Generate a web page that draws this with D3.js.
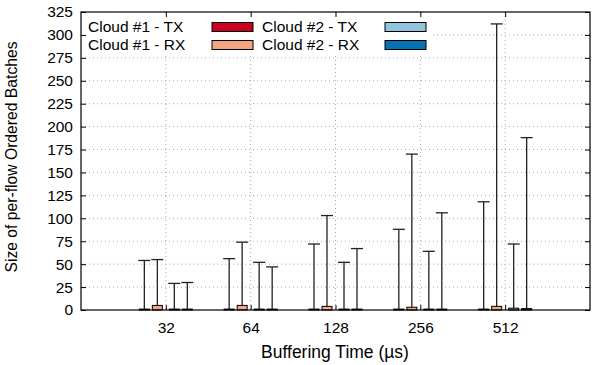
<!DOCTYPE html>
<html><head><meta charset="utf-8">
<script src="https://cdn.jsdelivr.net/npm/d3@7/dist/d3.min.js"></script>
<style>body{margin:0;background:#fff}svg{display:block;font-family:"Liberation Sans",Arial,sans-serif}</style>
</head><body>
<svg id="c" width="595" height="365"></svg>
<script>
const categories = ["32","64","128","256","512"];
const seriesNames = ["Cloud #1 - TX","Cloud #1 - RX","Cloud #2 - TX","Cloud #2 - RX"];
const seriesColors = ["#ca0020","#f4a582","#92c5de","#0571b0"];
const c1tx = [1,1,1,1,1];
const c1rx = [5,5,4,3,4];
const c2tx = [1,1,1,1,2];
const c2rx = [1,1,1,1,1.5];
const c1txHigh = [54,56,72,88,118];
const c1rxHigh = [55,74,103,170,312];
const c2txHigh = [29,52,52,64,72];
const c2rxHigh = [30,47,67,106,188];
const yTicks = [0,25,50,75,100,125,150,175,200,225,250,275,300,325];

const values = [c1tx,c1rx,c2tx,c2rx];
const highs = [c1txHigh,c1rxHigh,c2txHigh,c2rxHigh];

const L=81,R=590,T=12,B=310;
const FS=15.5;
const svg=d3.select("#c");
const x=d3.scaleLinear().domain([0,categories.length+1]).range([L,R]);
const y=d3.scaleLinear().domain([0,325]).range([B,T]);
const offsets=[-21.5,-8.5,8.5,21.5];
const bw=10;

// grid
const g=svg.append("g");
g.selectAll(".hg").data(yTicks.filter(d=>d>0&&d<325)).enter().append("line")
 .attr("x1",L).attr("x2",R).attr("y1",d=>y(d)).attr("y2",d=>y(d))
 .attr("stroke","#aaa").attr("stroke-width",1).attr("stroke-dasharray","1,3");
g.selectAll(".vg").data(categories).enter().append("line")
 .attr("x1",(d,i)=>x(i+1)).attr("x2",(d,i)=>x(i+1)).attr("y1",T).attr("y2",B)
 .attr("stroke","#aaa").attr("stroke-width",1).attr("stroke-dasharray","1,3");

// legend background
svg.append("rect").attr("x",L+1).attr("y",T+1).attr("width",350).attr("height",40).attr("fill","#fff");

// axes ticks
const yl=svg.append("g").attr("transform",`translate(${L},0)`).call(d3.axisLeft(y).tickValues(yTicks).tickSize(-5).tickPadding(8));
const yr=svg.append("g").attr("transform",`translate(${R},0)`).call(d3.axisRight(y).tickValues(yTicks).tickSize(-5).tickFormat(""));
const xb=svg.append("g").attr("transform",`translate(0,${B})`).call(d3.axisBottom(x).tickValues(categories.map((c,i)=>i+1)).tickFormat(i=>categories[i-1]).tickSize(-5).tickPadding(12));
const xt=svg.append("g").attr("transform",`translate(0,${T})`).call(d3.axisTop(x).tickValues(categories.map((c,i)=>i+1)).tickSize(-5).tickFormat(""));
[yl,yr,xb,xt].forEach(a=>{a.select(".domain").remove();a.selectAll("line").attr("stroke","#000");a.selectAll("text").attr("font-size",FS).attr("fill","#000").attr("font-family","Liberation Sans, Arial, sans-serif");});

// bars & error bars
values.forEach((vals,s)=>{
  const gs=svg.append("g");
  vals.forEach((v,i)=>{
    const cx=x(i+1)+offsets[s];
    gs.append("line").attr("x1",cx).attr("x2",cx).attr("y1",y(0)).attr("y2",y(highs[s][i])).attr("stroke","#222").attr("stroke-width",1.3);
    gs.append("line").attr("x1",cx-6).attr("x2",cx+6).attr("y1",y(highs[s][i])).attr("y2",y(highs[s][i])).attr("stroke","#222").attr("stroke-width",1.3);
    gs.append("rect").attr("x",cx-bw/2).attr("y",y(v)).attr("width",bw).attr("height",y(0)-y(v))
      .attr("fill",seriesColors[s]).attr("stroke","#000").attr("stroke-width",1);
  });
});

// border
svg.append("rect").attr("x",L).attr("y",T).attr("width",R-L).attr("height",B-T).attr("fill","none").attr("stroke","#000").attr("stroke-width",1.2);

// legend
const lx=[88,262], sx=[212,385], ly=[27,45];
seriesNames.forEach((n,s)=>{
  const col=Math.floor(s/2), row=s%2;
  svg.append("text").attr("x",lx[col]).attr("y",ly[row]).attr("dy","0.35em").attr("font-size",FS).text(n);
  svg.append("rect").attr("x",sx[col]).attr("y",ly[row]-4.5).attr("width",41).attr("height",9).attr("fill",seriesColors[s]).attr("stroke","#000").attr("stroke-width",1);
});

// axis labels
svg.append("text").attr("x",335).attr("y",358).attr("text-anchor","middle").attr("font-size",17.5).text("Buffering Time (µs)");
svg.append("text").attr("transform",`translate(17,157) rotate(-90)`).attr("text-anchor","middle").attr("font-size",15.7).text("Size of per-flow Ordered Batches");
</script>
</body></html>
